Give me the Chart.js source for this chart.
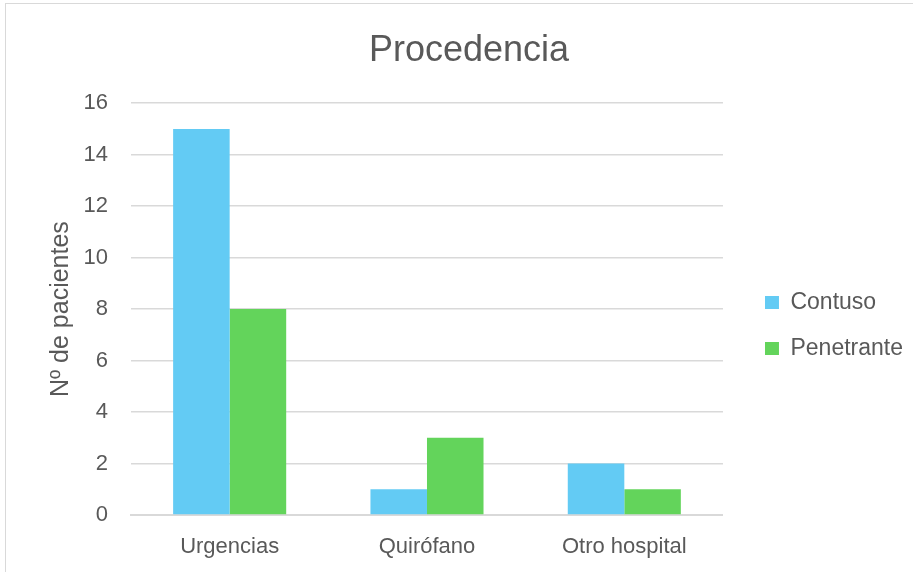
<!DOCTYPE html>
<html>
<head>
<meta charset="utf-8">
<script src="https://cdn.jsdelivr.net/npm/chart.js@4/dist/chart.umd.min.js"></script>
<style>
  html, body { margin: 0; padding: 0; background: #fff; overflow: hidden; }
  #frame { position: absolute; left: 5px; top: 3px; width: 940px; height: 600px; border: 1px solid #d9d9d9; }
  #wrap { position: absolute; left: 0; top: 0; width: 913px; height: 572px; }
</style>
</head>
<body>
<div id="frame"></div>
<div id="wrap"><canvas id="chart"></canvas></div>
<script>
const categories = ["Urgencias", "Quirófano", "Otro hospital"];
const contuso = [15, 1, 2];
const penetrante = [8, 3, 1];
const yTicks = [0, 2, 4, 6, 8, 10, 12, 14, 16];
const chartTitle = "Procedencia";

const textColor = "#595959";
const gridColor = "#d9d9d9";
const font = "'Liberation Sans', Arial, sans-serif";

// excel puts the legend a bit further out and lower, and the title a bit right
const nudge = {
  id: "nudge",
  afterLayout(chart) {
    const lg = chart.legend;
    lg.left += 19; lg.right += 19;
    lg.top += 45; lg.bottom += 45;
    chart.boxes.forEach(b => {
      if (b !== lg && b.options && b.options.text === chartTitle) {
        b.left += 11; b.right += 11;
      }
    });
  }
};

new Chart(document.getElementById("chart"), {
  type: "bar",
  data: {
    labels: categories,
    datasets: [
      { label: "Contuso", data: contuso, backgroundColor: "#63cbf4", borderWidth: 0 },
      { label: "Penetrante", data: penetrante, backgroundColor: "#63d45b", borderWidth: 0 }
    ]
  },
  plugins: [nudge],
  options: {
    responsive: true,
    maintainAspectRatio: false,
    animation: false,
    datasets: { bar: { categoryPercentage: 0.573, barPercentage: 1 } },
    layout: { padding: { left: 22, right: 19, top: 0, bottom: 11 } },
    plugins: {
      title: {
        display: true,
        text: chartTitle,
        color: textColor,
        font: { family: font, size: 36, weight: "normal" },
        padding: { top: 29, bottom: 31 }
      },
      legend: {
        position: "right",
        labels: {
          color: textColor,
          font: { family: font, size: 23 },
          boxWidth: 14,
          boxHeight: 13,
          padding: 23
        }
      },
      tooltip: { enabled: false }
    },
    scales: {
      x: {
        grid: { display: false, drawTicks: false },
        border: { color: gridColor, width: 2 },
        afterFit: axis => { axis.height = 46; },
        ticks: { color: textColor, font: { family: font, size: 22 }, padding: 19 }
      },
      y: {
        min: 0,
        max: 16,
        afterBuildTicks: axis => { axis.ticks = yTicks.map(v => ({ value: v })); },
        afterFit: axis => { axis.width = 109; },
        grid: { color: gridColor, lineWidth: 1.5, drawTicks: false },
        border: { display: false },
        title: {
          display: true,
          text: "Nº de pacientes",
          color: textColor,
          font: { family: font, size: 25 },
          padding: { top: 24, bottom: 0 }
        },
        ticks: { color: textColor, font: { family: font, size: 22 }, padding: 23 }
      }
    }
  }
});
</script>
</body>
</html>
